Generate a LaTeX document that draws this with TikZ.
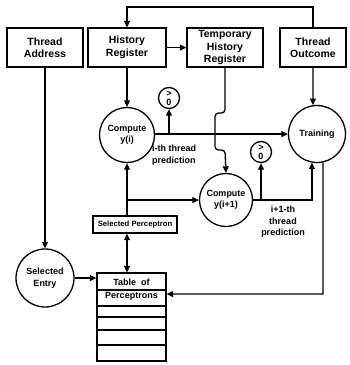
\documentclass[tikz,border=0pt]{standalone}
\usepackage{fontspec}
\setmainfont{Liberation Sans}
\usetikzlibrary{arrows.meta}
\begin{document}
\begin{tikzpicture}[x=1pt,y=-1pt,
  lw/.style={line width=1.3pt},
  box/.style={draw,lw,inner sep=0pt,align=center,font=\fontsize{10.5}{12.5}\selectfont\bfseries},
  rnd/.style={draw,lw,circle,inner sep=0pt,align=center,font=\fontsize{9}{11.5}\selectfont\bfseries},
  gt/.style={draw,lw,circle,inner sep=0pt,minimum size=21pt,align=center,font=\fontsize{9}{9}\selectfont\bfseries},
  lbl/.style={inner sep=0pt,font=\fontsize{9}{11.5}\selectfont\bfseries},
  arr/.style={lw,-{Triangle[length=6.5pt,width=6pt]}},
  arr2/.style={lw,{Triangle[length=6.5pt,width=6pt]}-{Triangle[length=6.5pt,width=6pt]}}
]
\useasboundingbox (0,0) rectangle (349,365);
% top boxes
\node[box,minimum width=76pt,minimum height=39pt] (ta) at (45,47.5) {Thread\\Address};
\node[box,minimum width=78pt,minimum height=39pt] (hr) at (127,47.5) {History\\Register};
\node[box,minimum width=76pt,minimum height=39pt] (thr) at (225,47.5) {Temporary\\History\\Register};
\node[box,minimum width=66pt,minimum height=39pt] (to) at (313,47.5) {Thread\\Outcome};
% circles
\node[rnd,minimum size=55pt] (cyi) at (127,135) {Compute\\y(i)};
\node[rnd,minimum size=57pt] (tr) at (317,134) {Training};
\node[rnd,minimum size=53pt] (cyi1) at (226,200) {Compute\\y(i+1)};
\node[rnd,minimum size=58pt] (se) at (45,278) {Selected\\Entry};
\node[gt] (g1) at (169,98) {>\\0};
\node[gt] (g2) at (261,152) {>\\0};
% selected perceptron
\node[draw,lw,minimum width=84pt,minimum height=17pt,inner sep=0pt,font=\fontsize{7.7}{9}\selectfont\bfseries] (sp) at (135,224.5) {Selected Perceptron};
% table
\node[draw,lw,minimum width=69pt,minimum height=88pt,inner sep=0pt] (tbl) at (131.5,317) {};
\foreach \yy in {290,306,317,330,345}
  \draw[lw] (tbl.west |- 0,\yy) -- (tbl.east |- 0,\yy);
\node[lbl] (tt1) at (131.5,282) {Table\ \ of};
\node[lbl] (tt2) at (131.5,296.5) {Perceptrons};
% labels
\node[lbl,anchor=north west,align=left] (l1) at (152,145) {i-th thread\\prediction};
\node[lbl,align=center] (l2) at (283,222) {i+1-th\\thread\\prediction};
% connectors
\coordinate (fb) at (220,7);
\draw[arr] (to.north) |- (fb) -| (hr.north);
\draw[arr] (hr.east) -- (thr.west);
\draw[arr] (hr.south) -- (cyi.north);
\draw[arr] (to.south) -- (tr.98);
\draw[arr] (cyi.east |- tr.west) -- (tr.west);
\draw[arr] (g1.south |- tr.west) -- (g1.south);
\draw[arr,rounded corners=3.5pt] (thr.south) -- (225,113) -- (215,113) -- (215,150) -- (225,150) -- (cyi1.north);
\draw[arr] (sp.north -| cyi.south) -- (cyi.south);
\draw[arr] (cyi.south |- cyi1.west) -- (cyi1.west);
\draw[arr] (cyi1.east) -| (tr.260);
\draw[arr] (g2.south |- cyi1.east) -- (g2.south);
\draw[arr2] (sp.south -| cyi.south) -- (tbl.north -| cyi.south);
\draw[arr] (ta.south) -- (se.north);
\draw[arr] (se.east) -- (se.east -| tbl.west);
\coordinate (c294) at (323,294);
\draw[arr] (tr.282) -- (c294) -- (c294 -| tbl.east);
\end{tikzpicture}
\end{document}
